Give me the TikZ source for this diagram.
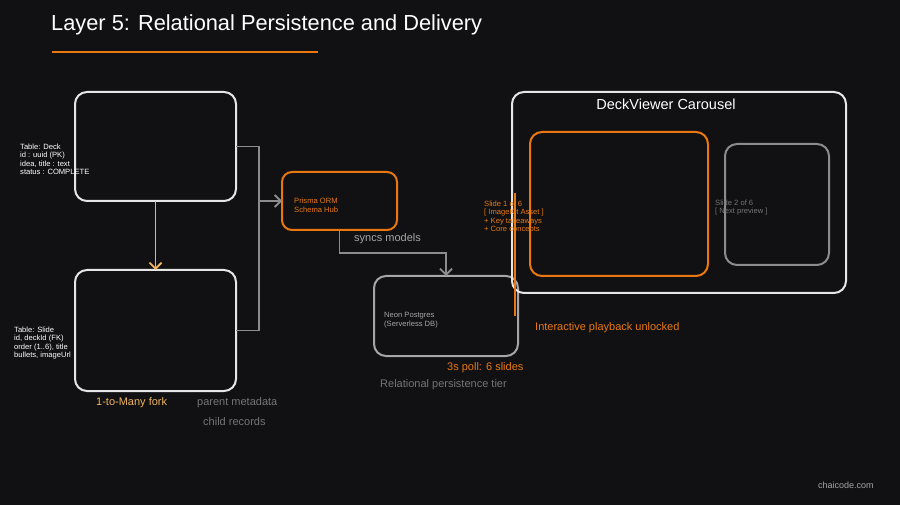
\documentclass[tikz,border=0pt]{standalone}
\usepackage{fontspec}
\setmainfont{Liberation Sans}
\usetikzlibrary{arrows.meta}
\definecolor{bg}{HTML}{111113}
\definecolor{wline}{HTML}{E6E6E6}
\definecolor{orng}{HTML}{E8780F}
\definecolor{lorng}{HTML}{F0B45C}
\definecolor{gline}{HTML}{8C8C8C}
\definecolor{gtext}{HTML}{A6A6A6}
\tikzset{
  box/.style={draw, rounded corners=12pt, inner sep=0pt, outer sep=0pt, line width=2pt},
  wbox/.style={box, draw=wline},
  obox/.style={box, draw=orng},
  gbox/.style={box, draw=gline!120},
  small/.style={anchor=west, inner sep=0pt, align=left, font=\fontsize{7.6}{8.5}\selectfont},
  mid/.style={anchor=west, inner sep=0pt, font=\fontsize{11}{13}\selectfont},
  conn/.style={draw=gline, line width=1.8pt},
  tip/.style={-{Straight Barb[length=6pt,width=12pt]}},
}
\begin{document}
\begin{tikzpicture}[x=1pt,y=-1pt]
\fill[bg] (0,0) rectangle (900,505);
\useasboundingbox (0,0) rectangle (900,505);

% title
\node[anchor=west, inner sep=0pt, text=white, font=\fontsize{21.8}{26}\selectfont] (title) at (51,25) {Layer 5: Relational Persistence and Delivery};
\draw[orng, line width=2.2pt] (52,52) coordinate (ul1) -- (318,52) coordinate (ul2);

% tables
\node[wbox, minimum width=161pt, minimum height=109pt] (deck) at (155.5,146.5) {};
\node[wbox, minimum width=161pt, minimum height=121pt] (slide) at (155.5,330.5) {};
\node[small, text=white] (decktxt) at (20,159.5) {Table: Deck\\id : uuid (PK)\\idea, title : text\\status : COMPLETE};
\node[small, text=white] (slidetxt) at (14,343) {Table: Slide\\id, deckId (FK)\\order (1..6), title\\bullets, imageUrl};
\draw[lorng, line width=1.8pt, tip] (deck.south) -- (slide.north);

% fork to prisma
\node[obox, rounded corners=10pt, minimum width=115pt, minimum height=58pt] (prisma) at (339.5,201) {};
\node[small, text=orng] (prismatxt) at (294,205.5) {Prisma ORM\\Schema Hub};
\coordinate (fork) at (259,201);
\draw[conn] (deck.east) -- (259,146.5) -- (259,330.5) -- (slide.east);
\draw[conn, tip] (fork) -- (prisma.west);

% neon
\node[gbox, draw=gtext, minimum width=144pt, minimum height=80pt] (neon) at (446,316) {};
\node[small, text=gtext] (neontxt) at (384,320) {Neon Postgres\\(Serverless DB)};
\draw[conn, tip] (prisma.south) -- ++(0,23) -| (neon.north);
\node[mid, text=gtext] (sync) at (354,239) {syncs models};
\node[mid, text=orng] (poll) at (447,368) {3s poll: 6 slides};
\node[mid, text=gline!120] (tier) at (380,385) {Relational persistence tier};

% carousel
\node[wbox, minimum width=334pt, minimum height=201pt] (viewer) at (679,192.5) {};
\node[anchor=center, inner sep=0pt, text=white, font=\fontsize{14.5}{17}\selectfont] (vtitle) at (666,104) {DeckViewer Carousel};
\node[obox, minimum width=178pt, minimum height=144pt] (s1) at (619,204) {};
\node[gbox, draw=gline, minimum width=104pt, minimum height=121pt] (s2) at (777,204.5) {};
\draw[orng, line width=1.6pt] (515,193) coordinate (oa) -- (515,316) coordinate (ob);
\node[small, text=orng] (s1txt) at (484,217) {Slide 1 of 6\\{[} ImageKit Asset ]\\+ Key takeaways\\+ Core concepts};
\node[small, text=gline!120] (s2txt) at (715,207.5) {Slide 2 of 6\\{[} Next preview ]};
\node[mid, text=orng] (play) at (535,328) {Interactive playback unlocked};

% bottom labels
\node[mid, text=lorng] (fork1) at (96,403) {1-to-Many fork};
\node[mid, text=gline!120] (parent) at (197,403) {parent metadata};
\node[mid, text=gline!120] (child) at (203,422) {child records};
\node[anchor=west, inner sep=0pt, text=gtext, font=\fontsize{9}{11}\selectfont] (brand) at (818,485) {chaicode.com};
\end{tikzpicture}
\end{document}
